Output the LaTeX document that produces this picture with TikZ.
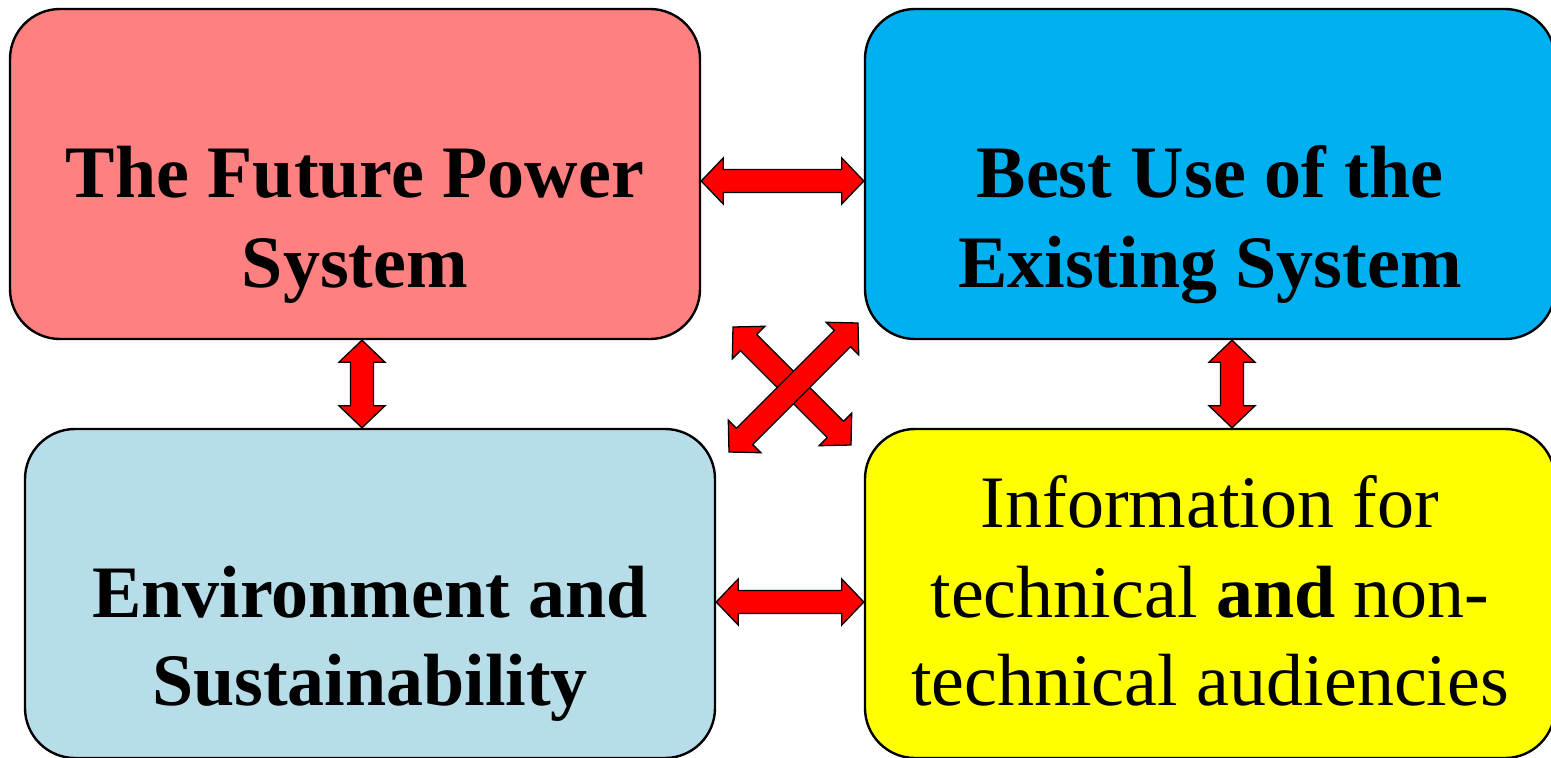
\documentclass[tikz,border=0pt]{standalone}
\usepackage{fontspec}
\setmainfont{Liberation Serif}
\usetikzlibrary{calc}
\definecolor{pinkc}{HTML}{FF8080}
\definecolor{bluec}{HTML}{00B0F0}
\definecolor{lbluec}{HTML}{B7DEE8}
\definecolor{yellc}{HTML}{FFFF00}
\tikzset{
  box/.style={draw=black, line width=2.4pt, rounded corners=50pt, inner sep=0pt},
  boldtxt/.style={anchor=base, inner sep=0pt, font=\fontsize{74}{89}\selectfont\bfseries},
  plaintxt/.style={anchor=base, inner sep=0pt, font=\fontsize{74}{89}\selectfont},
  blockarrow/.style={draw=black, fill=red, line width=1.3pt, line join=miter,
    to path={
      -- ($($(\tikztostart)!22pt!(\tikztotarget)$)!23pt!90:(\tikztotarget)$)
      -- ($($(\tikztostart)!22pt!(\tikztotarget)$)!11.5pt!90:(\tikztotarget)$)
      -- ($($(\tikztotarget)!22pt!(\tikztostart)$)!11.5pt!-90:(\tikztostart)$)
      -- ($($(\tikztotarget)!22pt!(\tikztostart)$)!23pt!-90:(\tikztostart)$)
      -- (\tikztotarget)
      -- ($($(\tikztotarget)!22pt!(\tikztostart)$)!23pt!90:(\tikztostart)$)
      -- ($($(\tikztotarget)!22pt!(\tikztostart)$)!11.5pt!90:(\tikztostart)$)
      -- ($($(\tikztostart)!22pt!(\tikztotarget)$)!11.5pt!-90:(\tikztotarget)$)
      -- ($($(\tikztostart)!22pt!(\tikztotarget)$)!23pt!-90:(\tikztotarget)$)
      -- cycle
    }}
}
\begin{document}
\begin{tikzpicture}[x=1pt, y=-1pt]
\useasboundingbox (0,0) rectangle (1551,758);
% boxes
\node[box, fill=pinkc, minimum width=690pt, minimum height=330pt] (A) at (355,174) {};
\node[box, fill=bluec, minimum width=690pt, minimum height=330pt] (B) at (1210,174) {};
\node[box, fill=lbluec, minimum width=690pt, minimum height=329pt] (C) at (370,593.5) {};
\node[box, fill=yellc, minimum width=690pt, minimum height=329pt] (D) at (1210,593.5) {};
% texts
\node[boldtxt] (A1) at (355,197) {The Future Power};
\node[boldtxt] (A2) at (355,287) {System};
\node[boldtxt] (B1) at (1210,197) {Best Use of the};
\node[boldtxt] (B2) at (1210,287) {Existing System};
\node[boldtxt] (C1) at (370,617) {Environment and};
\node[boldtxt] (C2) at (370,705) {Sustainability};
\node[plaintxt] (D1) at (1210,527) {Information for};
\node[plaintxt] (D2) at (1210,617) {technical \textbf{and} non-};
\node[plaintxt] (D3) at (1210,705) {technical audiencies};
% arrows
\draw[blockarrow] (A.east |- 0,181) to (B.west |- 0,181);
\draw[blockarrow] (C.east |- 0,602) to (D.west |- 0,602);
\draw[blockarrow] (A.south -| 362,0) to (C.north -| 362,0);
\draw[blockarrow] (B.south -| 1232,0) to (D.north -| 1232,0);
\coordinate (x1) at (733,327);
\coordinate (x2) at (851,445);
\coordinate (x3) at (729,452);
\coordinate (x4) at (858,323);
\draw[blockarrow] (x1) to (x2);
\draw[blockarrow] (x3) to (x4);
\end{tikzpicture}
\end{document}
